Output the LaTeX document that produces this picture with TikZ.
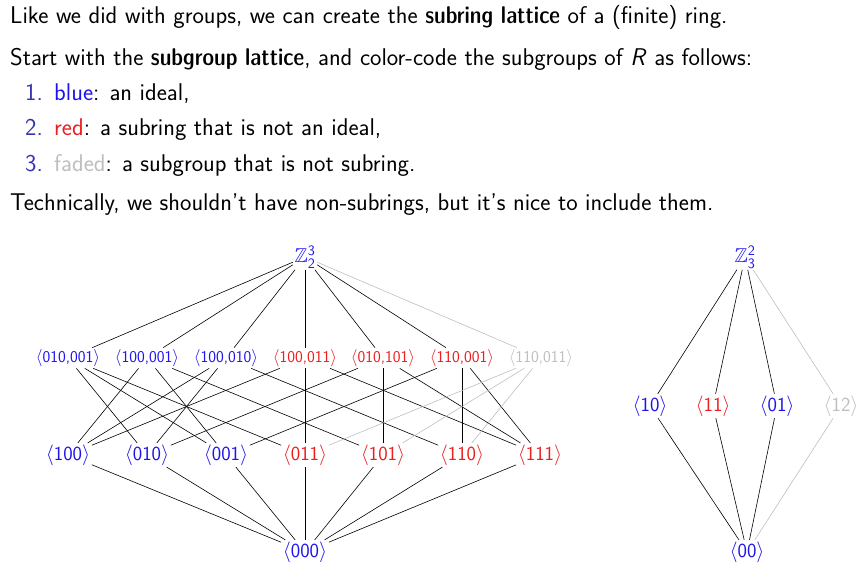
\documentclass[tikz,border=0pt]{standalone}
\usepackage{amssymb}
\definecolor{idealc}{RGB}{30,20,235}
\definecolor{subrc}{RGB}{235,30,30}
\definecolor{fadec}{RGB}{190,190,190}
\definecolor{structc}{rgb}{0.2,0.2,0.7}
\newcommand\gen[1]{$\langle$#1$\rangle$}
\newcommand\bsf[1]{{\fontseries{sbc}\selectfont #1}}
\tikzset{
  txt/.style={anchor=base west, inner sep=0pt, font=\fontsize{24.2}{29}\selectfont\sffamily},
  num/.style={txt, text=structc},
  lat/.style={inner sep=1.5pt},
  small/.style={font=\fontsize{16.5}{20}\selectfont\sffamily},
  ideal/.style={text=idealc},
  subr/.style={text=subrc},
  fade/.style={text=fadec},
  ed/.style={draw=black, line width=0.6pt},
  fe/.style={draw=fadec, line width=0.6pt}
}
\begin{document}
\begin{tikzpicture}[x=1pt,y=-1pt, font=\fontsize{20}{24}\selectfont\sffamily]
\useasboundingbox (0,0) rectangle (868,574);
% text
\node[txt] (l1) at (10,23.3) {Like we did with groups, we can create the \bsf{subring lattice} of a (finite) ring.};
\node[txt] (l2) at (10,65.7) {Start with the \bsf{subgroup lattice}, and color-code the subgroups of \textit{R} as follows:};
\node[num] (n1) at (25,100) {1.};
\node[num] (n2) at (25,135) {2.};
\node[num] (n3) at (25,171) {3.};
\node[txt] (i1) at (54,100) {\textcolor{idealc}{blue}: an ideal,};
\node[txt] (i2) at (54,135) {\textcolor{subrc}{red}: a subring that is not an ideal,};
\node[txt] (i3) at (54,171) {\textcolor{fadec}{faded}: a subgroup that is not subring.};
\node[txt] (l3) at (10,210) {Technically, we shouldn't have non-subrings, but it's nice to include them.};
% left lattice
\node[lat,ideal] (T) at (305,257) {$\mathbb{Z}_{\mathsf{2}}^{\mathsf{3}}$};
\node[lat,small,ideal] (m1) at (68,358) {\gen{010,001}};
\node[lat,small,ideal] (m2) at (147,358) {\gen{100,001}};
\node[lat,small,ideal] (m3) at (226,358) {\gen{100,010}};
\node[lat,small,subr] (m4) at (305,358) {\gen{100,011}};
\node[lat,small,subr] (m5) at (383,358) {\gen{010,101}};
\node[lat,small,subr] (m6) at (462,358) {\gen{110,001}};
\node[lat,small,fade] (m7) at (541,358) {\gen{110,011}};
\node[lat,ideal] (b100) at (68,455) {\gen{100}};
\node[lat,ideal] (b010) at (147,455) {\gen{010}};
\node[lat,ideal] (b001) at (226,455) {\gen{001}};
\node[lat,subr] (b011) at (305,455) {\gen{011}};
\node[lat,subr] (b101) at (383,455) {\gen{101}};
\node[lat,subr] (b110) at (462,455) {\gen{110}};
\node[lat,subr] (b111) at (540,455) {\gen{111}};
\node[lat,ideal] (z) at (305,552) {\gen{000}};
\foreach \m in {m1,m2,m3,m4,m5,m6} \draw[ed] (T) -- (\m);
\draw[fe] (T) -- (m7);
\foreach \a/\b in {m1/b010,m1/b001,m1/b011,m2/b100,m2/b001,m2/b101,m3/b100,m3/b010,m3/b110,m4/b100,m4/b011,m4/b111,m5/b010,m5/b101,m5/b111,m6/b110,m6/b001,m6/b111}
  \draw[ed] (\a) -- (\b);
\foreach \b in {b110,b011,b101} \draw[fe] (m7) -- (\b);
\foreach \b in {b100,b010,b001,b011,b101,b110,b111} \draw[ed] (\b) -- (z);
% right lattice
\node[lat,ideal] (S) at (745,257) {$\mathbb{Z}_{\mathsf{3}}^{\mathsf{2}}$};
\node[lat,ideal] (r10) at (650,406) {\gen{10}};
\node[lat,subr] (r11) at (713,406) {\gen{11}};
\node[lat,ideal] (r01) at (777,406) {\gen{01}};
\node[lat,fade] (r12) at (841,406) {\gen{12}};
\node[lat,ideal] (r00) at (747,552) {\gen{00}};
\foreach \r in {r10,r11,r01} {\draw[ed] (S) -- (\r); \draw[ed] (\r) -- (r00);}
\draw[fe] (S) -- (r12);
\draw[fe] (r12) -- (r00);
\end{tikzpicture}
\end{document}
